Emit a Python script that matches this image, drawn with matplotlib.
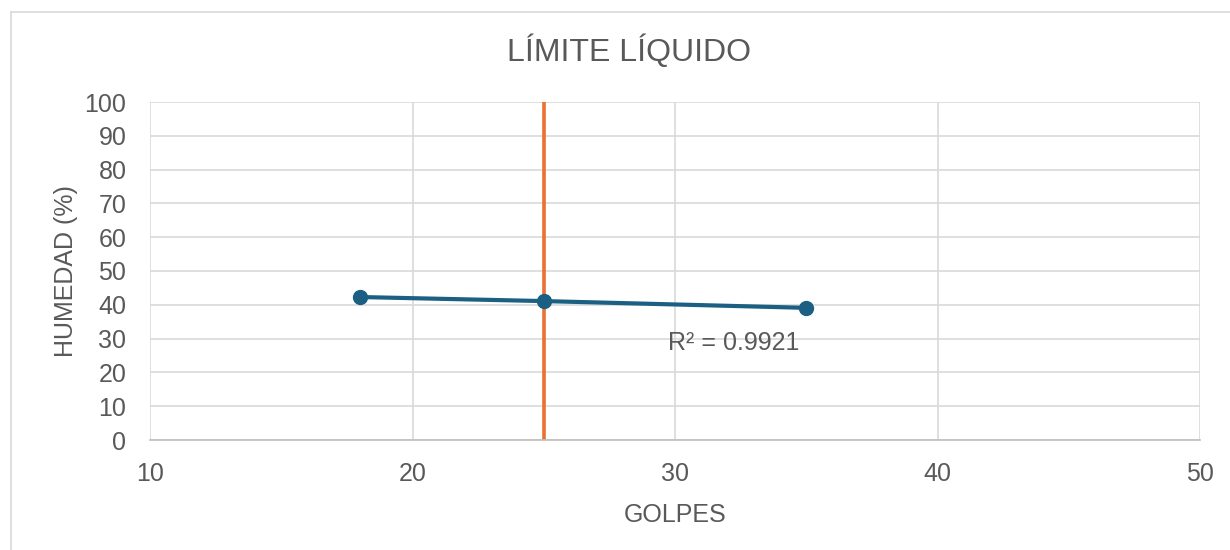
import matplotlib.pyplot as plt
from matplotlib.lines import Line2D

plt.rcParams['font.family'] = ['Liberation Sans', 'DejaVu Sans']

golpes = [18, 25, 35]
humedad = [42.3, 41.1, 39.1]
golpes_ll = 25
r2_text = "R² = 0.9921"
x_ticks = [10, 20, 30, 40, 50]
y_ticks = list(range(0, 101, 10))

gray_text = "#595959"
grid_gray = "#D9D9D9"

fig = plt.figure(figsize=(12.3, 5.5), dpi=100)
ax = fig.add_axes([150 / 1230, 110 / 550, 1050 / 1230, 338 / 550])

# chart frame (only the top/left edges fall inside the image)
fig.add_artist(Line2D([11 / 1230, 11 / 1230], [0, 1 - 12 / 550], color=grid_gray, lw=1.2))
fig.add_artist(Line2D([11 / 1230, 1], [1 - 12 / 550, 1 - 12 / 550], color=grid_gray, lw=1.2))

ax.plot(golpes, humedad, color="#1B5F82", lw=3, marker="o", ms=10, zorder=3)
ax.axvline(golpes_ll, color="#E97132", lw=2.6, zorder=2)

ax.set_xlim(10, 50)
ax.set_ylim(0, 100)
ax.set_xticks(x_ticks)
ax.set_yticks(y_ticks)
ax.grid(True, color=grid_gray, lw=1.2)
ax.set_axisbelow(True)
for side in ["top", "right", "left"]:
    ax.spines[side].set_visible(False)
ax.spines["bottom"].set_color("#BFBFBF")
ax.spines["bottom"].set_linewidth(1.2)
ax.tick_params(length=0, labelsize=18, colors=gray_text)
ax.tick_params(axis="x", pad=16)
ax.tick_params(axis="y", pad=17)

ax.text(29.75, 26.6, r2_text, fontsize=18, color=gray_text)

fig.text(629 / 1230, 1 - 51 / 550, "LÍMITE LÍQUIDO", fontsize=23, color=gray_text,
         ha="center", va="center")
ax.set_xlabel("GOLPES", fontsize=18, color=gray_text, labelpad=12)
ax.set_ylabel("HUMEDAD (%)", fontsize=18, color=gray_text, labelpad=5)

fig.savefig("out.png", dpi=100)
